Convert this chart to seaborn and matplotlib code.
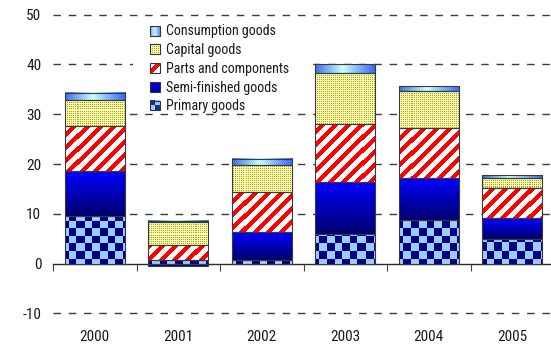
import numpy as np
import matplotlib
matplotlib.use("Agg")
import matplotlib.pyplot as plt
import seaborn as sns
from matplotlib import font_manager
from matplotlib.colors import to_rgb
from matplotlib.legend_handler import HandlerBase
from matplotlib.image import BboxImage
from matplotlib.transforms import Bbox, TransformedBbox
from matplotlib.patches import Rectangle, Patch

# ---- data -------------------------------------------------------------
years = ["2000", "2001", "2002", "2003", "2004", "2005"]
primary_goods = [9.6, 0.7, 0.7, 6.0, 8.8, 4.9]
semi_finished_goods = [8.9, -0.4, 5.6, 10.3, 8.3, 4.2]
parts_and_components = [9.2, 3.1, 8.0, 11.8, 10.2, 6.1]
capital_goods = [5.1, 4.5, 5.4, 10.2, 7.4, 1.9]
consumption_goods = [1.5, 0.3, 1.4, 1.8, 1.0, 0.6]

series_names = ["Primary goods", "Semi-finished goods", "Parts and components",
                "Capital goods", "Consumption goods"]
y_ticks = [-10, 0, 10, 20, 30, 40, 50]

# ---- fonts: prefer a narrow / condensed sans face ----------------------
sns.set_style("white")
NARROW = {"condensed", "semi-condensed", "extra-condensed", "ultra-condensed"}
preferred = ["Liberation Sans Narrow", "Roboto Condensed", "Open Sans Condensed",
             "Noto Sans", "DejaVu Sans", "Open Sans", "Roboto", "Inter", "Lato"]
cands = []
for f in font_manager.fontManager.ttflist:
    if f.style != "normal" or f.weight not in (400, "normal", "regular"):
        continue
    narrow = (f.stretch in NARROW) or ("Narrow" in f.name) or ("Condensed" in f.name)
    if narrow:
        rank = preferred.index(f.name) if f.name in preferred else len(preferred)
        cands.append((rank, f.name, f.stretch))
if cands:
    cands.sort()
    _, fam, stretch = cands[0]
    plt.rcParams["font.family"] = [fam, "DejaVu Sans"]
    plt.rcParams["font.stretch"] = stretch
    SIZE_TICK, SIZE_LEG = 11, 10
else:
    plt.rcParams["font.family"] = ["Liberation Sans", "DejaVu Sans"]
    SIZE_TICK, SIZE_LEG = 10, 9
TEXT = "#1a1a1a"

# ---- figure / axes ----------------------------------------------------
FW, FH = 551, 349
fig = plt.figure(figsize=(FW / 100, FH / 100), dpi=100)
AX_L, AX_R, AX_T, AX_B = 53, 554, 14.7, 313.3
ax = fig.add_axes([AX_L / FW, 1 - AX_B / FH, (AX_R - AX_L) / FW, (AX_B - AX_T) / FH])
XLIM = (-0.5, 5.5)
YLIM = (-10, 50)

# ---- fill textures ----------------------------------------------------
def rgb(c):
    return np.array(to_rgb(c))

def two_tone(mask, on, off):
    return np.where(mask[..., None], rgb(on), rgb(off))

NAVY, LIGHT = "#000080", "#99CCFF"
TW, TH = AX_R - AX_L, int(round(AX_B - AX_T))
ii, jj = np.mgrid[0:TH, 0:TW]
checker_tex = two_tone(((ii // 7.6).astype(int) + (jj // 7.6).astype(int)) % 2 == 0, NAVY, LIGHT)
stripe_tex = two_tone(((ii + jj) % 13) < 6, "#FF0000", "#FFFFFF")
dot_tex = two_tone((ii % 2 == 0) & (jj % 2 == 0), "#9C9C6A", "#FFFF99")

def vgrad(top, bottom, n=64):
    t = np.linspace(0, 1, n)[:, None, None]
    return (1 - t) * rgb(top) + t * rgb(bottom)

def hgrad(stops, n=64):
    xs = np.linspace(0, 1, n)
    pos = [s[0] for s in stops]
    cols = np.array([rgb(s[1]) for s in stops])
    out = np.stack([np.interp(xs, pos, cols[:, k]) for k in range(3)], axis=-1)
    return out[None, :, :]

semi_grad = vgrad("#0000FF", "#00006E")
cons_grad = hgrad([(0, "#3A6FEA"), (0.45, "#CCFFFF"), (1, "#3366FF")])


def fill_global(patch, tex):
    im = ax.imshow(tex, extent=(*XLIM, *YLIM), origin="upper", interpolation="nearest",
                   aspect="auto", zorder=0.9)
    im.set_clip_path(patch)


def fill_bar(patch, grad):
    x0, w = patch.get_x(), patch.get_width()
    y0, h = patch.get_y(), patch.get_height()
    ax.imshow(grad, extent=(x0, x0 + w, min(y0, y0 + h), max(y0, y0 + h)), origin="upper",
              interpolation="bilinear", aspect="auto", zorder=0.9)


# ---- stacked bars (negatives stack downward) --------------------------
layers = [primary_goods, semi_finished_goods, parts_and_components, capital_goods, consumption_goods]
fills = [("g", checker_tex), ("b", semi_grad), ("g", stripe_tex), ("g", dot_tex), ("b", cons_grad)]
pos_base = np.zeros(len(years))
neg_base = np.zeros(len(years))
for vals, name, (kind, tex) in zip(layers, series_names, fills):
    v = np.asarray(vals, dtype=float)
    bottom = np.where(v >= 0, pos_base, neg_base)
    n_before = len(ax.patches)
    sns.barplot(x=years, y=v, bottom=bottom, ax=ax, width=0.72, color="white",
                edgecolor="#3a3a3a", linewidth=0.8, errorbar=None, zorder=1)
    for p in ax.patches[n_before:]:
        p.set_facecolor("none")
        if kind == "g":
            fill_global(p, tex)
        else:
            fill_bar(p, tex)
    pos_base = pos_base + np.where(v >= 0, v, 0)
    neg_base = neg_base + np.where(v < 0, v, 0)

# ---- axes styling -----------------------------------------------------
ax.set_xlim(*XLIM)
ax.set_ylim(*YLIM)
for s in ax.spines.values():
    s.set_visible(False)
ax.set_yticks(y_ticks)
ax.set_yticklabels([str(t) for t in y_ticks])
ax.set_xticks(range(len(years)))
ax.set_xticklabels(years)
ax.tick_params(axis="y", length=0, pad=8.5, labelsize=SIZE_TICK, labelcolor=TEXT)
ax.tick_params(axis="x", length=0, pad=12, labelsize=SIZE_TICK, labelcolor=TEXT)
ax.set_xlabel("")
ax.set_ylabel("")
ax.set_axisbelow(True)
ax.yaxis.grid(True, linestyle=(0, (5.4, 5.6)), color="#3c3c3c", linewidth=1.0)
for t, gl in zip(y_ticks, ax.get_ygridlines()):
    gl.set_clip_on(False)
    if t == 0:
        gl.set_visible(False)

# zero line with category-boundary ticks
zero_axis = ax.secondary_xaxis((0 - YLIM[0]) / (YLIM[1] - YLIM[0]))
zero_axis.set_xticks(np.arange(-0.5, len(years), 1.0))
zero_axis.tick_params(axis="x", direction="out", length=5, width=0.8, color="#444444",
                      labelbottom=False, labeltop=False)
zero_axis.spines["bottom"].set_color("#2a2a2a")
zero_axis.spines["bottom"].set_linewidth(1.0)

# ---- legend -----------------------------------------------------------
class TextureHandler(HandlerBase):
    def __init__(self, tex, interp="nearest"):
        super().__init__()
        self.tex = tex
        self.interp = interp

    def create_artists(self, legend, orig_handle, xdescent, ydescent, width, height,
                       fontsize, trans):
        bb = TransformedBbox(Bbox.from_bounds(-xdescent, -ydescent, width, height), trans)
        img = BboxImage(bb, interpolation=self.interp)
        img.set_data(self.tex)
        frame = Rectangle((-xdescent, -ydescent), width, height, facecolor="none",
                          edgecolor="#333333", linewidth=0.8, transform=trans)
        return [img, frame]


si, sj = np.mgrid[0:10, 0:10]
icon_textures = {
    "Consumption goods": (hgrad([(0, "#7FB2FF"), (0.5, "#CCF2FF"), (1, "#6699FF")], 10), "bilinear"),
    "Capital goods": (two_tone((si % 2 == 0) & (sj % 2 == 0), "#9C9C6A", "#FFFF99"), "nearest"),
    "Parts and components": (two_tone(((si + sj + 7) % 13) < 6, "#FF0000", "#FFFFFF"), "nearest"),
    "Semi-finished goods": (vgrad("#0000FF", "#0000A0", 10), "bilinear"),
    "Primary goods": (two_tone(((si // 5) + (sj // 5)) % 2 == 1, LIGHT, "#1030A0"), "nearest"),
}
legend_order = series_names[::-1]
handles = [Patch(label=n) for n in legend_order]
handler_map = {h: TextureHandler(*icon_textures[h.get_label()]) for h in handles}

ax.add_patch(Rectangle((133 / FW, 1 - 113 / FH), (306 - 133) / FW, (113 - 20) / FH,
                       transform=fig.transFigure, facecolor="white", edgecolor="none",
                       zorder=0.8))
leg = ax.legend(handles=handles, labels=legend_order, handler_map=handler_map,
                loc="upper left", bbox_to_anchor=(150 / FW, 1 - 24.5 / FH),
                bbox_transform=fig.transFigure, frameon=False, borderaxespad=0,
                borderpad=0, fontsize=SIZE_LEG, handlelength=0.72, handleheight=0.72,
                handletextpad=0.45, labelspacing=0.34)
for t in leg.get_texts():
    t.set_color(TEXT)

fig.savefig("out.png", dpi=100)
